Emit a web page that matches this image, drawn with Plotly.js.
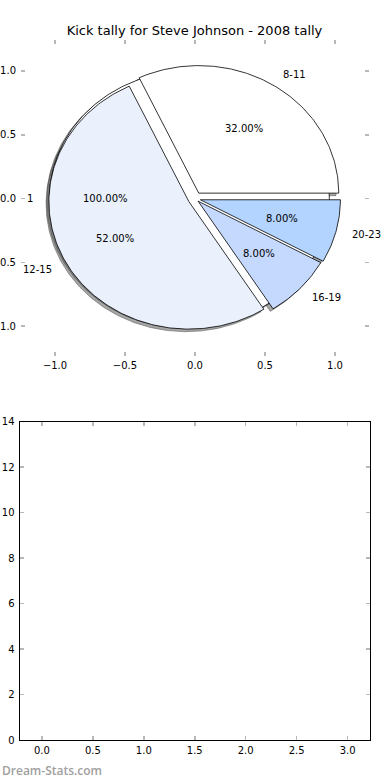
<!DOCTYPE html>
<html>
<head>
<meta charset="utf-8">
<script src="https://cdn.plot.ly/plotly-3.0.1.min.js"></script>
<style>html,body{margin:0;padding:0;background:#fff;}#chart{width:390px;height:780px;}</style>
</head>
<body>
<div id="chart"></div>
<script>
// ---- data ----
const titleText = 'Kick tally for Steve Johnson - 2008 tally';
const categories = ['8-11', '12-15', '16-19', '20-23'];
const kicks = [8, 13, 2, 2];
const sliceColors = ['#ffffff', '#eaf1fd', '#c5d8fd', '#b2d4fe'];
const bgCategories = ['1'];
const bgValues = [1];
const yTickValsBottom = [0, 2, 4, 6, 8, 10, 12, 14];
const xTickValsBottom = [0, 0.5, 1, 1.5, 2, 2.5, 3];
const footerText = 'Dream-Stats.com';

// ---- styling / geometry config ----
const explode = [0.05, 0.05, 0.03, 0.04];
const bgExplode = [0.04];
const shadowOff = [-0.02, -0.02];
const FONT = 'DejaVu Sans';

function wedges(values, expl) {
  const total = values.reduce((a, b) => a + b, 0);
  let start = 0;
  return values.map((v, i) => {
    const span = v / total * 360;
    const t1 = start, t2 = start + span;
    start = t2;
    const mid = (t1 + t2) / 2 * Math.PI / 180;
    const cx = expl[i] * Math.cos(mid), cy = expl[i] * Math.sin(mid);
    const full = Math.abs(span - 360) < 1e-9;
    const xs = [], ys = [];
    if (!full) { xs.push(cx); ys.push(cy); }
    const n = Math.max(4, Math.ceil(span));
    for (let k = 0; k <= n; k++) {
      const a = (t1 + span * k / n) * Math.PI / 180;
      xs.push(cx + Math.cos(a)); ys.push(cy + Math.sin(a));
    }
    if (!full) { xs.push(cx); ys.push(cy); }
    return {xs, ys, mid, cx, cy, pct: v / total * 100};
  });
}

const bg = wedges(bgValues, bgExplode);
const fg = wedges(kicks, explode);
const traces = [];
const shadowFill = 'rgba(77,77,77,0.5)';
[bg, fg].forEach(set => set.forEach(w => {
  traces.push({type: 'scatter', mode: 'lines', x: w.xs.map(v => v + shadowOff[0]), y: w.ys.map(v => v + shadowOff[1]),
    fill: 'toself', fillcolor: shadowFill, line: {color: shadowFill, width: 1}, hoverinfo: 'skip', showlegend: false, xaxis: 'x', yaxis: 'y'});
}));
bg.forEach(w => traces.push({type: 'scatter', mode: 'lines', x: w.xs, y: w.ys, fill: 'toself', fillcolor: '#ffffff',
  line: {color: '#000', width: 0.8}, hoverinfo: 'skip', showlegend: false, xaxis: 'x', yaxis: 'y'}));
fg.forEach((w, i) => traces.push({type: 'scatter', mode: 'lines', x: w.xs, y: w.ys, fill: 'toself', fillcolor: sliceColors[i],
  line: {color: '#000', width: 0.8}, hoverinfo: 'skip', showlegend: false, xaxis: 'x', yaxis: 'y'}));
traces.push({type: 'scatter', mode: 'markers', x: [], y: [], xaxis: 'x2', yaxis: 'y2', showlegend: false});

const annotations = [];
function labelWedges(set, labels) {
  set.forEach((w, i) => {
    const c = Math.cos(w.mid), s = Math.sin(w.mid);
    const lx = w.cx + 1.1 * c, ly = w.cy + 1.1 * s;
    annotations.push({xref: 'x', yref: 'y', x: lx, y: ly, text: labels[i], showarrow: false,
      xanchor: lx > 0 ? 'left' : 'right', yanchor: 'middle', font: {family: FONT, size: 10, color: '#000'}});
    annotations.push({xref: 'x', yref: 'y', x: w.cx + 0.6 * c, y: w.cy + 0.6 * s, text: w.pct.toFixed(2) + '%', showarrow: false,
      xanchor: 'center', yanchor: 'middle', font: {family: FONT, size: 10, color: '#000'}});
  });
}
labelWedges(bg, bgCategories);
labelWedges(fg, categories);
annotations.push({xref: 'paper', yref: 'paper', x: 0, y: 1 - 770 / 780, xanchor: 'left', yanchor: 'middle', showarrow: false,
  text: footerText, font: {family: 'Open Sans', size: 12, color: '#a0a0a0', weight: 600}});

const tickFont = {family: FONT, size: 10, color: '#000'};
const layout = {
  width: 390, height: 780,
  margin: {l: 0, r: 0, t: 0, b: 0},
  paper_bgcolor: '#fff', plot_bgcolor: '#fff',
  showlegend: false,
  title: {text: titleText, x: 0.4987, xanchor: 'center', y: 1 - 30 / 780, yanchor: 'middle', font: {family: FONT, size: 13, color: '#000'}},
  xaxis: {domain: [21 / 390, 369 / 390], range: [-1.243, 1.243], tickvals: [-1, -0.5, 0, 0.5, 1], tickformat: '.1f',
    showgrid: false, zeroline: false, showline: true, linecolor: 'rgba(0,0,0,0)', mirror: 'ticks',
    ticks: 'inside', ticklen: 4, tickwidth: 1.5, tickcolor: '#b8b8b8', tickfont: tickFont, ticklabelstandoff: 0, anchor: 'y', fixedrange: true},
  yaxis: {domain: [1 - 356 / 780, 1 - 40 / 780], range: [-1.235, 1.243], tickvals: [-1, -0.5, 0, 0.5, 1], tickformat: '.1f',
    showgrid: false, zeroline: false, showline: true, linecolor: 'rgba(0,0,0,0)', mirror: 'ticks',
    ticks: 'inside', ticklen: 4, tickwidth: 1.5, tickcolor: '#b8b8b8', tickfont: tickFont, ticklabelstandoff: 2, anchor: 'x', fixedrange: true},
  xaxis2: {domain: [19.5 / 390, 370 / 390], range: [-0.22, 3.22], tickvals: xTickValsBottom, tickformat: '.1f',
    showgrid: false, zeroline: false, showline: true, linecolor: '#000', linewidth: 1, mirror: 'ticks',
    ticks: 'inside', ticklen: 4, tickwidth: 1.5, tickcolor: '#b8b8b8', tickfont: tickFont, ticklabelstandoff: 1, anchor: 'y2', fixedrange: true},
  yaxis2: {domain: [1 - 740 / 780, 1 - 421.5 / 780], range: [0, 14], tickvals: yTickValsBottom,
    showgrid: false, zeroline: false, showline: true, linecolor: '#000', linewidth: 1, mirror: 'ticks',
    ticks: 'inside', ticklen: 4, tickwidth: 1.5, tickcolor: '#b8b8b8', tickfont: tickFont, ticklabelstandoff: 2, anchor: 'x2', fixedrange: true},
  annotations: annotations
};
Plotly.newPlot('chart', traces, layout, {displayModeBar: false, staticPlot: true});
</script>
</body>
</html>
